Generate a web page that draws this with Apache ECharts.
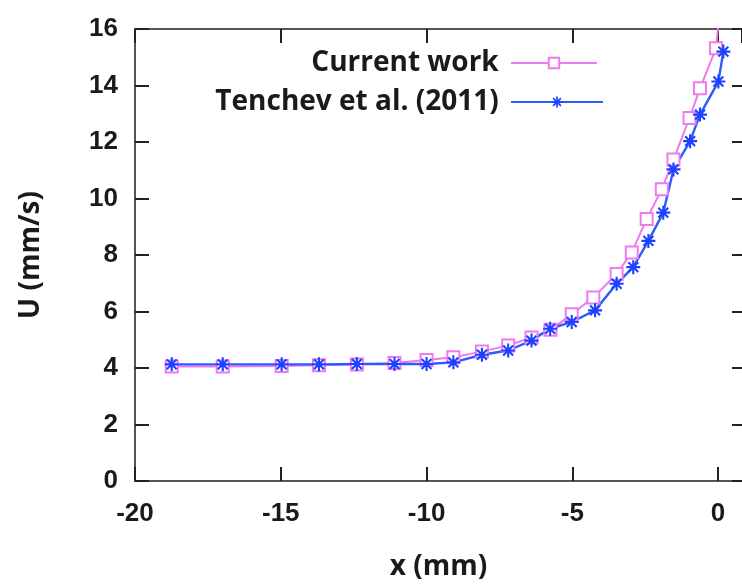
<!DOCTYPE html>
<html>
<head>
<meta charset="utf-8">
<script src="https://cdn.jsdelivr.net/npm/echarts@6/dist/echarts.min.js"></script>
<style>
html,body{margin:0;padding:0;background:#fff;}
#chart{width:742px;height:586px;}
</style>
</head>
<body>
<div id="chart"></div>
<script>
// Data
const currentX = [-18.74, -16.99, -14.97, -13.69, -12.39, -11.1, -10.0, -9.08, -8.1, -7.2, -6.4, -5.75, -5.02, -4.28, -3.48, -2.96, -2.45, -1.93, -1.53, -0.98, -0.62, -0.07, 0.1];
const currentU = [4.05, 4.05, 4.07, 4.1, 4.12, 4.18, 4.28, 4.38, 4.58, 4.8, 5.08, 5.35, 5.9, 6.5, 7.33, 8.09, 9.27, 10.33, 11.38, 12.85, 13.9, 15.32, 17.2];
const tenchevX = [-18.74, -16.99, -14.97, -13.69, -12.39, -11.1, -10.0, -9.08, -8.1, -7.2, -6.4, -5.76, -5.02, -4.22, -3.48, -2.91, -2.39, -1.88, -1.53, -0.96, -0.62, 0.01, 0.18];
const tenchevU = [4.13, 4.13, 4.13, 4.13, 4.14, 4.14, 4.14, 4.2, 4.47, 4.62, 4.97, 5.39, 5.63, 6.04, 6.98, 7.57, 8.5, 9.5, 11.03, 12.03, 12.97, 14.14, 15.2];
const seriesNames = ['Current work', 'Tenchev et al. (2011)'];
const xTicks = [-20, -15, -10, -5, 0];
const yTicks = [0, 2, 4, 6, 8, 10, 12, 14, 16];

const pink = '#ee7aee';
const blue = '#2a5cff';
const asterisk = 'path://M8.5 0H11.5V20H8.5Z M0 8.5H20V11.5H0Z M3.99 1.87L18.13 16.01L16.01 18.13L1.87 3.99Z M16.01 1.87L18.13 3.99L3.99 18.13L1.87 16.01Z';

const tickFont = { fontFamily: 'Liberation Sans', fontWeight: 'bold', fontSize: 26, color: '#1a1a1a' };
const titleFont = { fontFamily: 'Open Sans', fontWeight: 'bold', fontSize: 28, color: '#1a1a1a' };

const zip = (xs, ys) => xs.map((x, i) => [x, ys[i]]);

const axisLine = { show: true, onZero: false, lineStyle: { color: '#555', width: 2 } };
const axisTick = { show: true, inside: true, length: 14, lineStyle: { color: '#222', width: 2 } };

const chart = echarts.init(document.getElementById('chart'), null, { renderer: 'canvas' });
chart.setOption({
  animation: false,
  backgroundColor: '#fff',
  grid: { left: 135, right: 0, top: 29, bottom: 103, containLabel: false },
  xAxis: [{
    type: 'value', min: -20, max: 0.82, interval: 5, position: 'bottom',
    name: 'x (mm)', nameLocation: 'middle', nameGap: 72, nameTextStyle: titleFont,
    axisLine: axisLine, axisTick: axisTick, splitLine: { show: false },
    axisLabel: Object.assign({ margin: 20, showMaxLabel: false,
      formatter: v => xTicks.includes(v) ? String(v) : '' }, tickFont)
  }, {
    type: 'value', min: -20, max: 0.82, interval: 5, position: 'top',
    axisLine: axisLine, axisTick: axisTick, splitLine: { show: false }, axisLabel: { show: false }
  }],
  yAxis: [{
    type: 'value', min: 0, max: 16, interval: 2, position: 'left',
    name: 'U (mm/s)', nameLocation: 'middle', nameGap: 90, nameTextStyle: titleFont,
    axisLine: axisLine, axisTick: axisTick, splitLine: { show: false },
    axisLabel: Object.assign({ margin: 17, formatter: v => yTicks.includes(v) ? String(v) : '' }, tickFont)
  }, {
    type: 'value', min: 0, max: 16, interval: 2, position: 'right',
    axisLine: { show: false, onZero: false },
    axisTick: { show: true, inside: true, length: 10, lineStyle: { color: '#222', width: 2 } },
    splitLine: { show: false }, axisLabel: { show: false }
  }],
  legend: [{
    data: [seriesNames[0]], right: 139, top: 41, align: 'right', itemWidth: 86, itemHeight: 13,
    formatter: n => n + ' ', textStyle: Object.assign({ lineHeight: 34 }, titleFont)
  }, {
    data: [seriesNames[1]], right: 133, top: 80, align: 'right', itemWidth: 92, itemHeight: 14,
    formatter: n => n + ' ', textStyle: Object.assign({ lineHeight: 34 }, titleFont)
  }],
  series: [{
    name: seriesNames[0], type: 'line', data: zip(currentX, currentU),
    symbol: 'emptyRect', symbolSize: 12, clip: true,
    lineStyle: { color: pink, width: 2 },
    itemStyle: { color: pink, borderWidth: 1.6 }
  }, {
    name: seriesNames[1], type: 'line', data: zip(tenchevX, tenchevU),
    symbol: asterisk, symbolSize: 14, clip: true,
    lineStyle: { color: blue, width: 2.4 },
    itemStyle: { color: '#1e40ff' }
  }]
});
</script>
</body>
</html>
